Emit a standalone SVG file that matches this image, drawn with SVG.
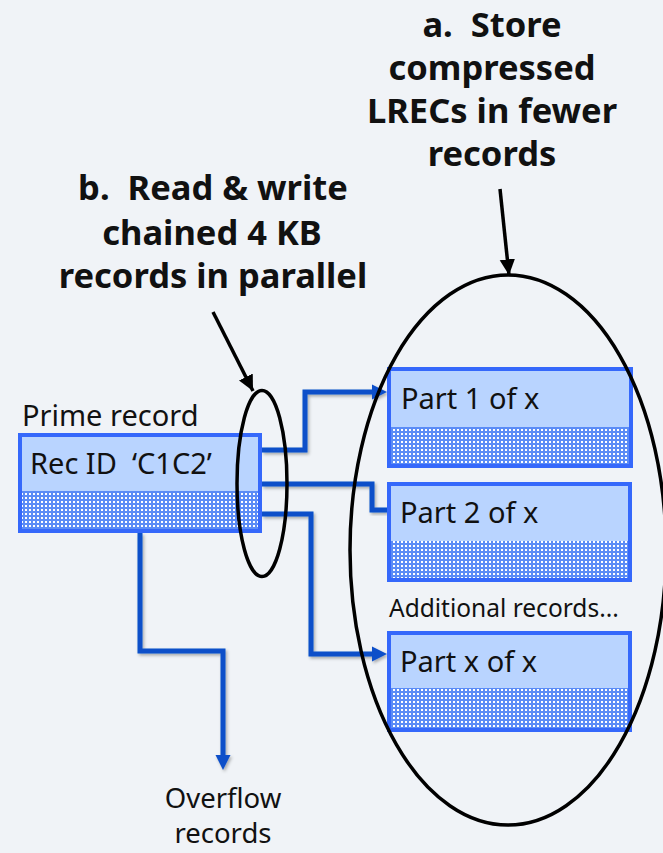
<svg xmlns="http://www.w3.org/2000/svg" width="663" height="853" viewBox="0 0 663 853">
<style>
.bg{fill:#f0f3f7}
.box{fill:#b9d4ff;stroke:#3568fb;stroke-width:4}
.pat{fill:url(#dots)}
text{white-space:pre}
.lbl{font-family:"Noto Sans","Liberation Sans",sans-serif;font-size:29px;fill:#111}
.ovf{font-family:"Noto Sans","Liberation Sans",sans-serif;font-size:27.5px;fill:#111;text-anchor:middle}
.small{font-family:"Noto Sans","Liberation Sans",sans-serif;font-size:24.5px;fill:#111}
.title{font-family:"Noto Sans","Liberation Sans",sans-serif;font-size:34.5px;font-weight:bold;fill:#111;text-anchor:middle}
.conn{fill:none;stroke:#0c4fc9;stroke-width:5;stroke-linejoin:miter;filter:url(#sh)}
.ann{fill:none;stroke:#000;stroke-width:3.5}
</style>
<defs>
<pattern id="dots" x="0" y="0" width="4" height="4" patternUnits="userSpaceOnUse">
<rect width="4" height="4" fill="#5b8cf6"/>
<rect x="1" y="1" width="2" height="2" fill="#ffffff"/>
</pattern>
<marker id="blueArrow" markerWidth="16" markerHeight="16" refX="0" refY="8" orient="auto" markerUnits="userSpaceOnUse">
<path d="M0,0.5 L15,8 L0,15.5 Z" fill="#0c4fc9"/>
</marker>
<marker id="blackArrow" markerWidth="5" markerHeight="5" refX="4.5" refY="2.5" orient="auto" markerUnits="strokeWidth">
<path d="M0,0.3 L4.5,2.5 L0,4.7 Z" fill="#000"/>
</marker>
<filter id="sh" x="-20%" y="-20%" width="140%" height="140%">
<feDropShadow dx="1.5" dy="2" stdDeviation="1.5" flood-color="#000" flood-opacity="0.3"/>
</filter>
</defs>
<rect class="bg" x="0" y="0" width="663" height="853"/>

<g id="connectors">
<path class="conn" d="M262,450 H305 V392 H372" marker-end="url(#blueArrow)"/>
<path class="conn" d="M262,484 H372 V510 H387"/>
<path class="conn" d="M262,514 H311 V654 H372" marker-end="url(#blueArrow)"/>
<path class="conn" d="M140,533 V651 H223 V755" marker-end="url(#blueArrow)"/>
</g>

<g id="prime-record">
<text class="lbl" x="22" y="426">Prime record</text>
<rect class="box" x="20" y="435" width="240" height="96"/>
<rect class="pat" x="22" y="491" width="236" height="38"/>
<text class="lbl" x="30" y="474">Rec ID  ‘C1C2’</text>
</g>

<g id="part1">
<rect class="box" x="389" y="369" width="242" height="97"/>
<rect class="pat" x="391" y="427" width="238" height="37"/>
<text class="lbl" x="401" y="409">Part 1 of x</text>
</g>

<g id="part2">
<rect class="box" x="389" y="484" width="241" height="96"/>
<rect class="pat" x="391" y="541" width="237" height="37"/>
<text class="lbl" x="400" y="523">Part 2 of x</text>
</g>

<g id="additional">
<text class="small" x="389" y="617">Additional records...</text>
</g>

<g id="partx">
<rect class="box" x="389" y="633" width="241" height="97"/>
<rect class="pat" x="391" y="688" width="237" height="40"/>
<text class="lbl" x="400" y="672">Part x of x</text>
</g>

<g id="overflow">
<text class="ovf" x="223" y="808">Overflow</text>
<text class="ovf" x="223" y="843">records</text>
</g>

<g id="annotation-a">
<text class="title" x="492" y="37">a.  Store</text>
<text class="title" x="492" y="80">compressed</text>
<text class="title" x="492" y="123">LRECs in fewer</text>
<text class="title" x="492" y="166">records</text>
<line class="ann" x1="500" y1="189" x2="509" y2="275" marker-end="url(#blackArrow)" stroke-width="3"/>
<ellipse class="ann" cx="508" cy="550" rx="158" ry="275" stroke-width="4"/>
</g>

<g id="annotation-b">
<text class="title" x="213" y="200">b.  Read &amp; write</text>
<text class="title" x="212" y="245">chained 4 KB</text>
<text class="title" x="213" y="288">records in parallel</text>
<line class="ann" x1="213" y1="312" x2="253" y2="391" marker-end="url(#blackArrow)" stroke-width="3"/>
<ellipse class="ann" cx="262" cy="483.5" rx="25" ry="93"/>
</g>
</svg>
